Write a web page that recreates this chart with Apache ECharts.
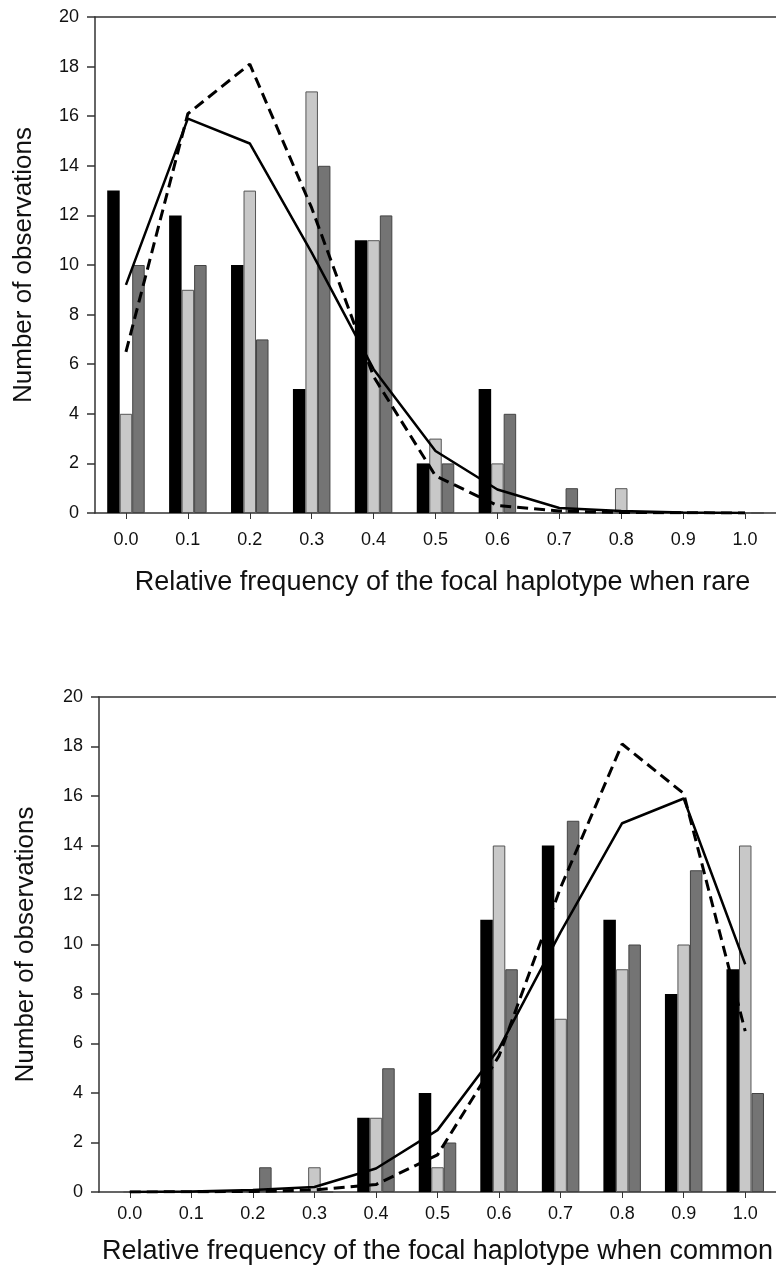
<!DOCTYPE html>
<html>
<head>
<meta charset="utf-8">
<script src="https://cdn.jsdelivr.net/npm/echarts@6/dist/echarts.min.js"></script>
<style>
html,body{margin:0;padding:0;background:#fff;}
#c{width:776px;height:1276px;}
</style>
</head>
<body>
<div id="c"></div>
<script>
var categories = ['0.0','0.1','0.2','0.3','0.4','0.5','0.6','0.7','0.8','0.9','1.0'];
var yTicks = [0,2,4,6,8,10,12,14,16,18,20];

// Top panel (focal haplotype rare)
var rareBlack = [13,12,10,5,11,2,5,0,0,0,0];
var rareLight = [4,9,13,17,11,3,2,0,1,0,0];
var rareDark  = [10,10,7,14,12,2,4,1,0,0,0];
var rareSolid  = [9.2,15.9,14.9,10.5,5.8,2.5,0.95,0.2,0.08,0.02,0];
var rareDashed = [6.5,16.1,18.1,12.3,5.5,1.5,0.3,0.08,0.02,0.01,0];

// Bottom panel (focal haplotype common)
var commonBlack = [0,0,0,0,3,4,11,14,11,8,9];
var commonLight = [0,0,0,1,3,1,14,7,9,10,14];
var commonDark  = [0,0,1,0,5,2,9,15,10,13,4];
var commonSolid  = [0,0.02,0.08,0.2,0.95,2.5,5.8,10.5,14.9,15.9,9.2];
var commonDashed = [0,0.01,0.02,0.08,0.3,1.5,5.5,12.3,18.1,16.1,6.5];

var FONT = '"Liberation Sans", Arial, sans-serif';
var chart = echarts.init(document.getElementById('c'), null, {renderer:'canvas'});

function xCat(gi, name, labelMargin, nameGap, namePad){
  return {
    type:'category', gridIndex:gi, data:categories, position:'bottom',
    boundaryGap:true,
    axisLine:{show:true, lineStyle:{color:'#333', width:1.5}},
    axisTick:{show:true, alignWithLabel:true, length:6, lineStyle:{color:'#333', width:1}},
    axisLabel:{fontFamily:FONT, fontSize:18, color:'#111', margin:labelMargin},
    splitLine:{show:false},
    name:name, nameLocation:'middle', nameGap:nameGap,
    nameTextStyle:{fontFamily:FONT, fontSize:27, color:'#111', padding:namePad}
  };
}
function xTop(gi){
  return {
    type:'category', gridIndex:gi, data:categories, position:'top',
    axisLine:{show:true, lineStyle:{color:'#333', width:1.5}},
    axisTick:{show:false}, axisLabel:{show:false}, splitLine:{show:false}
  };
}
function yVal(gi, nameGap){
  return {
    type:'value', gridIndex:gi, min:yTicks[0], max:yTicks[yTicks.length-1], interval:2,
    axisLine:{show:true, lineStyle:{color:'#333', width:1.5}},
    axisTick:{show:true, length:8, lineStyle:{color:'#333', width:1.5}},
    axisLabel:{fontFamily:FONT, fontSize:18, color:'#111', margin:16},
    splitLine:{show:false},
    name:'Number of observations', nameLocation:'middle', nameGap:nameGap, nameRotate:90,
    nameTextStyle:{fontFamily:FONT, fontSize:26, color:'#111'}
  };
}
function bar(xi, data, color, border){
  return {
    type:'bar', xAxisIndex:xi, yAxisIndex:xi, data:data, barWidth:12.5, barGap:'0%',
    itemStyle:{color:color, borderColor:border, borderWidth: border ? 1 : 0},
    silent:true, z:2
  };
}
function line(xi, data, dashed){
  return {
    type:'line', xAxisIndex:xi, yAxisIndex:xi, data:data, symbol:'none', smooth:false,
    lineStyle:{color:'#000', width: dashed ? 3 : 2.5, type: dashed ? [11,6] : 'solid'},
    silent:true, z:5
  };
}

chart.setOption({
  animation:false,
  backgroundColor:'#fff',
  grid:[
    {left:95, top:17, width:686, height:496},
    {left:99, top:697, width:682, height:495}
  ],
  xAxis:[
    xCat(0,'Relative frequency of the focal haplotype when rare', 18, 56, [0,0,0,14]),
    xCat(1,'Relative frequency of the focal haplotype when common', 13, 46, 0),
    xTop(0), xTop(1)
  ],
  yAxis:[yVal(0, 58), yVal(1, 60)],
  series:[
    bar(0, rareBlack, '#000', null),
    bar(0, rareLight, '#c8c8c8', '#555'),
    bar(0, rareDark, '#747474', '#444'),
    line(0, rareSolid, false),
    line(0, rareDashed, true),
    bar(1, commonBlack, '#000', null),
    bar(1, commonLight, '#c8c8c8', '#555'),
    bar(1, commonDark, '#747474', '#444'),
    line(1, commonSolid, false),
    line(1, commonDashed, true)
  ]
});
</script>
</body>
</html>
